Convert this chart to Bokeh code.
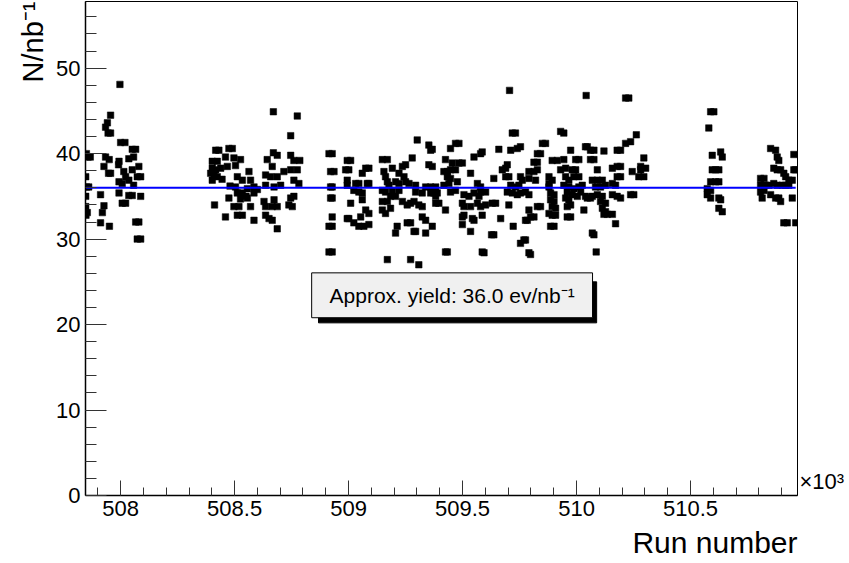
from bokeh.plotting import figure
from bokeh.models import FixedTicker, Range1d, Title, LinearAxis, ColumnDataSource
from bokeh.embed import file_html
from bokeh.resources import INLINE
from bokeh.core.properties import value

# ---------------- data (run number, yield N/nb^-1) ----------------
runs_a = [507997, 507956, 507942, 507934, 507956, 507945, 508000, 508019, 508051, 508066,
          507857, 507867, 507934, 507950, 507993, 508036, 508057, 507927, 508080, 507991,
          507947, 507956, 508014, 508051, 508073, 508088, 508022, 508036, 507993, 508007,
          507860, 508057, 507993, 507912, 508036, 508051, 508088, 508007, 508022, 507927,
          507854, 507920, 507912, 507951, 508066, 508080, 508073, 508088, 507847, 507850,
          507847, 507847, 507848, 507850]
yield_a = [48.1, 44.5, 43.6, 43.1, 42.4, 42.4, 41.3, 41.3, 40.5, 40.5,
           39.6, 39.6, 39.6, 39.3, 39.1, 39.4, 39.6, 38.5, 38.5, 38.7,
           37.7, 37.7, 37.9, 38.1, 37.3, 37.3, 37.3, 36.9, 36.7, 36.5,
           36.1, 36.3, 35.4, 35.2, 35.1, 35.1, 35.0, 34.2, 34.2, 33.9,
           33.1, 33.1, 31.9, 31.5, 32.0, 32.0, 30.0, 30.0, 37.3, 36.1,
           35.0, 33.8, 32.8, 40.0]

runs_b = [508670, 508775, 508746, 508417, 508431, 508475, 508490, 508670, 508687, 508746,
          508402, 508424, 508460, 508497, 508526, 508643, 508760, 508786, 508402, 508417,
          508439, 508468, 508504, 508563, 508665, 508716, 508746, 508775, 508402, 508424,
          508512, 508534, 508570, 508636, 508658, 508687, 508702, 508760, 508782, 508504,
          508556, 508585, 508636, 508673, 508512, 508534, 508585, 508475, 508526, 508556,
          508629, 508673, 508746, 508760, 508412, 508497, 508519, 508570, 508636, 508665,
          508687, 508738, 508753, 508512, 508534, 508460, 508636, 508651, 508665, 508585,
          508687, 508395, 508410, 508445, 508480, 508550, 508600]
yield_b = [44.9, 44.4, 42.1, 40.4, 40.4, 40.6, 40.6, 40.1, 39.8, 39.8,
           39.1, 39.1, 39.6, 39.5, 39.3, 39.3, 39.2, 39.2, 38.3, 38.1,
           38.3, 38.5, 38.6, 37.9, 38.5, 37.9, 38.1, 38.1, 36.9, 37.3,
           37.3, 36.9, 36.9, 37.5, 37.3, 37.3, 36.3, 36.9, 36.5, 36.1,
           35.9, 36.1, 36.3, 36.1, 35.4, 35.4, 35.4, 34.8, 34.7, 34.8,
           34.4, 34.6, 34.8, 35.0, 34.0, 33.8, 33.8, 33.8, 33.8, 33.8,
           33.8, 34.0, 33.8, 32.8, 32.8, 32.6, 32.8, 32.4, 32.2, 32.2,
           31.2, 37.7, 37.5, 37.0, 36.2, 35.0, 35.8]

runs_c = [509301, 509352, 509360, 508914, 508928, 508994, 509009, 509148, 509170, 509279,
          509352, 508921, 508936, 508987, 509001, 509075, 509089, 509192, 509236, 509250,
          509060, 509155, 509162, 509221, 509243, 508994, 508994, 509031, 509045, 509082,
          509089, 509170, 509177, 509206, 509221, 509250, 509265, 509294, 509338, 509360,
          508921, 508928, 509023, 509045, 509060, 509148, 509162, 509192, 509221, 509294,
          509323, 509360, 508921, 508928, 509009, 509060, 509148, 509170, 509184, 509206,
          509236, 509257, 509272, 509287, 509308, 509323, 509148, 509162, 509184, 509075,
          509089, 508928, 508994, 509001, 509053, 509323, 509338, 508914, 508928, 509023,
          509045, 509067, 509089, 509213, 509206, 509257, 509272, 509287, 509294, 509338,
          508914, 508928, 509170, 509272, 509308]
yield_c = [41.6, 41.0, 40.4, 40.0, 40.0, 39.2, 39.2, 39.3, 39.3, 39.5,
           38.7, 37.9, 37.9, 38.1, 38.1, 38.3, 38.3, 38.3, 38.5, 38.7,
           37.7, 37.9, 37.3, 37.7, 37.3, 36.9, 36.3, 36.5, 36.5, 36.5,
           36.5, 36.7, 36.3, 36.7, 36.5, 36.7, 36.5, 36.3, 36.1, 36.1,
           36.1, 36.1, 35.7, 35.5, 35.4, 35.7, 35.5, 35.7, 35.7, 35.5,
           35.4, 35.4, 34.8, 34.8, 34.2, 34.6, 34.4, 34.4, 35.0, 35.0,
           34.4, 34.0, 34.2, 34.4, 34.0, 33.8, 33.4, 33.0, 33.6, 33.4,
           33.0, 32.6, 32.4, 32.4, 32.6, 32.6, 32.2, 31.5, 31.5, 31.9,
           31.5, 31.5, 31.7, 31.5, 30.7, 31.9, 31.9, 30.9, 30.9, 30.7,
           28.5, 28.5, 27.6, 27.6, 27.0]

runs_d = [509706, 509718, 509732, 509850, 509754, 509740, 509469, 509484, 509447, 509579,
          509586, 509659, 509711, 509828, 509842, 509550, 509425, 509367, 509455, 509484,
          509499, 509696, 509813, 509828, 509418, 509433, 509447, 509469, 509674, 509689,
          509791, 509813, 509828, 509535, 509367, 509433, 509447, 509637, 509689, 509703,
          509754, 509762, 509791, 509820, 509382, 509418, 509440, 509477, 509565, 509579,
          509711, 509732, 509747, 509879, 509389, 509382, 509374, 509447, 509469, 509506,
          509528, 509550, 509572, 509579, 509601, 509696, 509718, 509740, 509754, 509776,
          509791, 509382, 509396, 509499, 509506, 509535, 509565, 509579, 509601, 509630,
          509645, 509703, 509425, 509499, 509506, 509543, 509550, 509586, 509667, 509791,
          509828, 509842, 509776, 509784, 509798, 509813, 509367, 509499, 509535, 509722,
          509627, 509637, 509769, 509776, 509754, 509425, 509433, 509586, 509594, 509791,
          509798]
yield_d = [47.4, 42.4, 42.4, 41.2, 40.8, 40.6, 41.2, 41.2, 40.6, 40.0,
           40.2, 40.5, 40.4, 40.0, 40.0, 39.6, 39.3, 40.5, 38.9, 38.9,
           38.9, 38.7, 39.0, 39.0, 37.9, 37.9, 38.1, 38.1, 38.1, 38.3,
           37.9, 37.9, 38.1, 37.7, 38.5, 37.3, 37.1, 37.1, 37.3, 37.3,
           37.3, 36.9, 37.1, 36.9, 36.1, 36.3, 36.5, 36.7, 36.5, 36.1,
           36.3, 36.1, 36.3, 36.5, 35.4, 35.0, 35.4, 35.5, 35.7, 35.2,
           35.0, 35.4, 35.0, 35.5, 35.5, 35.5, 35.4, 35.2, 35.4, 35.5,
           35.2, 34.2, 34.2, 34.2, 33.8, 33.8, 34.2, 33.8, 34.0, 34.2,
           34.2, 34.0, 33.4, 32.6, 32.8, 32.4, 32.2, 32.8, 32.4, 33.4,
           33.8, 33.8, 32.2, 32.2, 32.6, 32.6, 31.5, 31.7, 30.9, 31.5,
           30.5, 30.5, 29.9, 29.9, 29.5, 28.5, 28.5, 28.5, 28.4, 28.4,
           28.2]

runs_e = [510042, 510215, 510229, 510262, 510215, 510237, 509930, 509944, 509864, 509974,
          510039, 510047, 510061, 510076, 510120, 510178, 510193, 510295, 509893, 509915,
          509944, 509996, 510010, 510061, 510076, 510281, 510303, 509930, 509952, 509981,
          509996, 510091, 510157, 510178, 510193, 510244, 510281, 509879, 509893, 509952,
          509966, 509988, 510010, 510178, 510193, 510069, 510091, 510113, 510273, 510295,
          509879, 509944, 509966, 509988, 510010, 510025, 510083, 510105, 510127, 510157,
          510171, 509886, 509901, 509959, 509981, 510003, 510018, 510039, 510069, 510091,
          510113, 510157, 510178, 510193, 510237, 510251, 509886, 509901, 509952, 509966,
          510047, 510061, 510105, 510127, 509893, 509908, 509959, 509974, 510032, 510113,
          510127, 509879, 509893, 509908, 509959, 509974, 510120, 510135, 510157, 510171,
          509886, 509901, 510069, 510076, 510086]
yield_e = [46.8, 46.5, 46.5, 42.2, 41.2, 41.4, 42.6, 42.4, 41.2, 40.4,
           40.8, 40.8, 40.4, 40.4, 40.3, 40.4, 40.4, 39.5, 39.2, 39.2,
           39.3, 39.3, 39.3, 39.3, 39.3, 38.5, 38.3, 38.1, 38.3, 38.1,
           38.1, 38.1, 38.3, 38.5, 38.5, 37.9, 38.1, 37.3, 36.9, 37.3,
           36.9, 37.3, 37.3, 37.3, 37.3, 36.9, 36.9, 36.9, 37.3, 37.3,
           36.1, 36.3, 36.1, 35.9, 36.1, 36.3, 36.1, 36.1, 36.3, 36.5,
           36.3, 35.4, 35.2, 35.5, 35.2, 35.0, 35.5, 35.0, 35.0, 35.2,
           35.0, 35.2, 35.0, 34.8, 35.2, 35.2, 34.6, 34.4, 34.8, 34.6,
           34.8, 34.8, 34.4, 34.2, 33.8, 33.6, 33.8, 34.0, 33.4, 33.6,
           33.2, 33.0, 32.8, 32.8, 32.6, 32.6, 32.9, 32.9, 32.9, 31.8,
           31.5, 31.5, 30.7, 30.5, 28.5]

runs_f = [510588, 510602, 510580, 510595, 510632, 510639, 510595, 510610, 510624, 510588,
          510610, 510624, 510573, 510588, 510573, 510588, 510624, 510632, 510624, 510639,
          510851, 510873, 510880, 510887, 510953, 510807, 510822, 510865, 510880, 510895,
          510909, 510917, 510931, 510953, 510961, 510807, 510829, 510844, 510865, 510880,
          510902, 510917, 510931, 510946, 510807, 510822, 510814, 510851, 510873, 510887,
          510895, 510946, 510909, 510924, 510961]
yield_f = [44.9, 44.9, 43.0, 39.8, 40.2, 39.6, 38.1, 38.1, 38.1, 36.7,
           36.7, 36.7, 35.9, 35.7, 35.2, 34.8, 34.8, 34.6, 33.6, 33.2,
           40.6, 40.4, 39.6, 39.2, 39.9, 37.1, 37.1, 38.3, 38.1, 38.1,
           37.7, 37.3, 36.9, 38.1, 38.1, 36.3, 36.3, 36.3, 36.5, 36.3,
           36.3, 36.3, 36.3, 36.9, 35.5, 35.7, 34.8, 35.2, 34.8, 34.8,
           34.4, 34.8, 31.9, 31.9, 31.9]

approx_yield = 36.0

x_major = [508000, 508500, 509000, 509500, 510000, 510500]
x_major_labels = ["508", "508.5", "509", "509.5", "510", "510.5"]
y_major = [0, 10, 20, 30, 40, 50]
y_major_labels = ["0", "10", "20", "30", "40", "50"]
x_multiplier = "\u00d710\u00b3"

# ---------------- figure ----------------
runs = runs_a + runs_b + runs_c + runs_d + runs_e + runs_f
yields = yield_a + yield_b + yield_c + yield_d + yield_e + yield_f
src = ColumnDataSource(dict(run=runs, n=yields))

FONT = "Liberation Sans"

p = figure(width=849, height=563, output_backend="svg", toolbar_location=None,
           x_range=Range1d(507846, 510969), y_range=Range1d(0, 57.8),
           min_border_left=85, min_border_right=52, min_border_top=1,
           min_border_bottom=67, title=None)
p.background_fill_color = "white"
p.border_fill_color = "white"
p.outline_line_color = "black"
p.outline_line_width = 1
p.xgrid.visible = False
p.ygrid.visible = False

p.xaxis.ticker = FixedTicker(ticks=x_major,
                             minor_ticks=[507900 + 100 * i for i in range(31)])
p.xaxis.major_label_overrides = dict(zip(x_major, x_major_labels))
p.yaxis.ticker = FixedTicker(ticks=y_major, minor_ticks=[2 * i for i in range(29)])
p.yaxis.major_label_overrides = dict(zip(y_major, y_major_labels))

for ax in (p.xaxis, p.yaxis):
    ax.axis_line_color = "black"
    ax.axis_line_width = 1.5
    ax.major_tick_line_color = "#333333"
    ax.minor_tick_line_color = "#333333"
    ax.major_tick_out = 0
    ax.minor_tick_out = 0
    ax.major_label_text_font = FONT
    ax.major_label_text_font_size = "22px"
    ax.major_label_text_color = "black"
    ax.major_label_standoff = 5
p.xaxis.major_tick_in = 15
p.xaxis.minor_tick_in = 8
p.yaxis.major_tick_in = 21
p.yaxis.minor_tick_in = 11

# right-side "x10^3" multiplier placed via an invisible right axis label
mult_axis = LinearAxis(ticker=FixedTicker(ticks=[1.6], minor_ticks=[]),
                       major_label_overrides={1.6: x_multiplier})
mult_axis.axis_line_color = None
mult_axis.major_tick_line_color = None
mult_axis.minor_tick_line_color = None
mult_axis.major_tick_in = 0
mult_axis.major_tick_out = 0
mult_axis.minor_tick_in = 0
mult_axis.minor_tick_out = 0
mult_axis.major_label_standoff = 2
mult_axis.major_label_text_font = FONT
mult_axis.major_label_text_font_size = "22px"
mult_axis.major_label_text_color = "black"
p.add_layout(mult_axis, "right")

ytitle = Title(text="N/nb\u207b\u00b9", align="right", text_font=FONT,
               text_font_size="29px", text_font_style="normal", text_color="black")
p.add_layout(ytitle, "left")
xtitle = Title(text="Run number", align="right", text_font=FONT,
               text_font_size="30px", text_font_style="normal", text_color="black")
p.add_layout(xtitle, "below")

# data points
p.scatter("run", "n", source=src, marker="square", size=6.5,
          fill_color="black", line_color="black", line_width=0.5)

# approximate yield line across the run range
p.line([min(runs), max(runs)], [approx_yield, approx_yield],
       line_color="#0000ff", line_width=2)

# legend pave with shadow
p.quad(left=[508868], right=[510088], bottom=[20.2], top=[25.0],
       fill_color="black", line_color="black")
p.quad(left=[508838], right=[510070], bottom=[20.8], top=[26.05],
       fill_color="#f0f0f0", line_color="black", line_width=1)
p.text(x=[509454], y=[23.45],
       text=["Approx. yield: %.1f ev/nb\u207b\u00b9" % approx_yield],
       text_font=value(FONT), text_font_size="21px", text_color="black",
       text_align="center", text_baseline="middle")

open("out.html", "w").write(file_html(p, INLINE))
